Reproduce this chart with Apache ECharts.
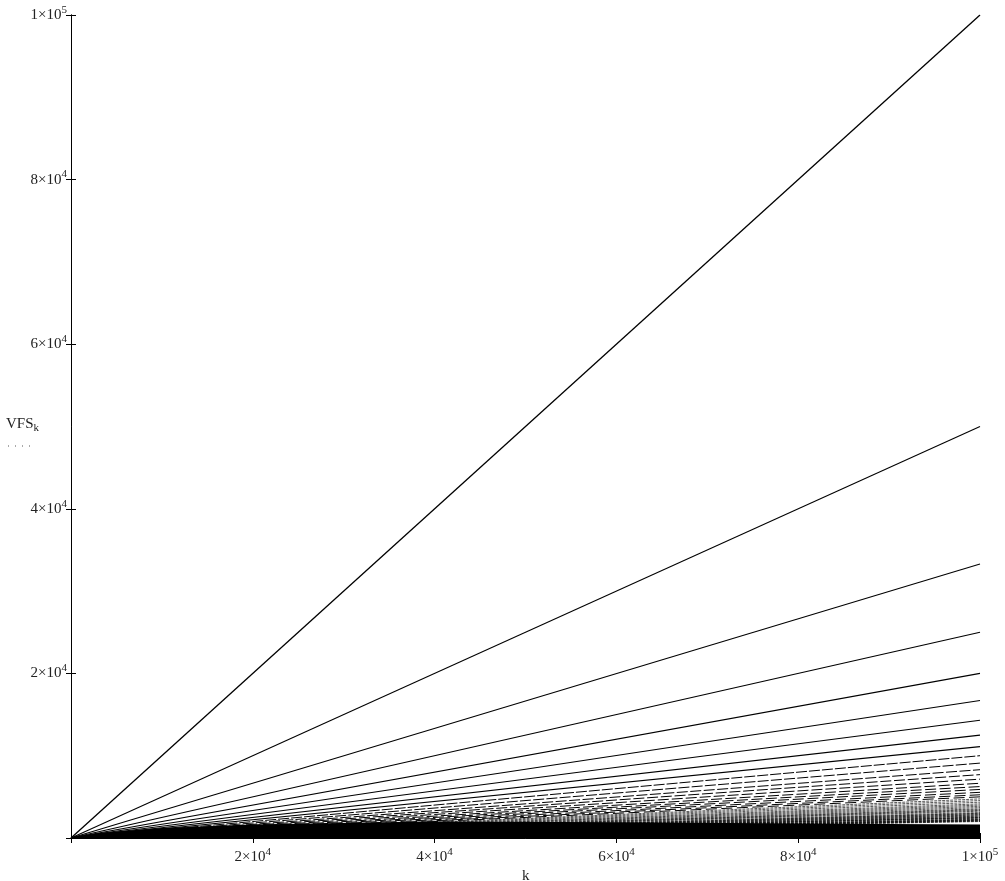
<!DOCTYPE html>
<html>
<head>
<meta charset="utf-8">
<script src="https://cdn.jsdelivr.net/npm/echarts@6/dist/echarts.min.js"></script>
<style>
  html, body { margin: 0; padding: 0; background: #fff; }
  #chart { width: 1005px; height: 881px; }
</style>
</head>
<body>
<div id="chart"></div>
<script>
// k axis range
var kMin = 0
var kMax = 100000

// tick labels, shown as mantissa×10^exponent
var tickValues = [20000, 40000, 60000, 80000, 100000]
var tickBase = ['2×10', '4×10', '6×10', '8×10', '1×10']
var tickPow = ['4', '4', '4', '4', '5']

// the rays VFS_k fans out into, value read at k = 1×10^5
var rayEnds = [100000, 50000, 33300, 25000, 20000, 16700, 14300, 12500, 11100, 10000,
  9100, 8300, 7700, 7150, 6650, 6250, 5900, 5550, 5250, 5000,
  4750, 4550, 4350, 4150, 4000, 3850, 3700, 3550, 3450, 3350,
  3250, 3100, 3000, 2950, 2850, 2800, 2700, 2650, 2550, 2500,
  2450, 2400, 2300, 2250, 2200, 2150, 2100, 2050, 2000]

// solid black band along the bottom (top edge of it)
var bandK = [0, 3000, 10000, 20000, 40000, 60000, 80000, 100000]
var bandTop = [0, 600, 1200, 1650, 2000, 1900, 1750, 1650]

var serif = 'Liberation Serif'

function tickLabel(v) {
  var i = tickValues.indexOf(v)
  if (i < 0) return ''
  return '{m|' + tickBase[i] + '}{e|' + tickPow[i] + '}'
}

var labelRich = {
  m: { fontFamily: serif, fontSize: 15, color: '#222' },
  e: { fontFamily: serif, fontSize: 11, color: '#222', padding: [0, 0, 10, 0] }
}

// ray styles: upper ones solid, middle ones dashed, the lowest ones greyish
function rayStyle(i) {
  if (i < 9) return { color: '#000', width: i === 0 ? 1.3 : 1.1, type: 'solid' }
  if (i < 20) return { color: '#000', width: 1, type: [11, 2 + (i - 9) * 0.25] }
  return { color: '#000', width: 1, opacity: 0.65, type: [3, 1] }
}

var series = rayEnds.map(function (v, i) {
  return {
    type: 'line',
    data: [[kMin, 0], [kMax, v]],
    symbol: 'none',
    silent: true,
    lineStyle: rayStyle(i),
    z: 3
  }
})

series.push({
  type: 'line',
  data: bandK.map(function (k, i) { return [k, bandTop[i]] }),
  symbol: 'none',
  silent: true,
  lineStyle: { width: 0 },
  areaStyle: { color: '#000', opacity: 1 },
  z: 2
})

var chart = echarts.init(document.getElementById('chart'))
chart.setOption({
  animation: false,
  backgroundColor: '#fff',
  grid: { left: 71, right: 25, top: 15, bottom: 43 },
  xAxis: [{
    type: 'value', min: kMin, max: kMax, interval: 20000,
    axisLine: { show: true, lineStyle: { color: '#000', width: 1 } },
    axisTick: { show: true, inside: true, length: 5, lineStyle: { color: '#000' } },
    splitLine: { show: false },
    axisLabel: { margin: 9, formatter: tickLabel, rich: labelRich }
  }, {
    type: 'value', min: kMin, max: kMax, interval: 20000, position: 'top',
    axisLine: { show: true, lineStyle: { color: '#000', width: 1 } },
    axisTick: { show: true, inside: true, length: 5, lineStyle: { color: '#000' } },
    splitLine: { show: false },
    axisLabel: { show: false }
  }],
  yAxis: [{
    type: 'value', min: 0, max: 100000, interval: 20000,
    axisLine: { show: true, lineStyle: { color: '#000', width: 1 } },
    axisTick: { show: true, inside: true, length: 5, lineStyle: { color: '#000' } },
    splitLine: { show: false },
    axisLabel: { margin: 4, formatter: tickLabel, rich: labelRich }
  }, {
    type: 'value', min: 0, max: 100000, interval: 20000, position: 'right',
    axisLine: { show: true, lineStyle: { color: '#000', width: 1 } },
    axisTick: { show: true, inside: true, length: 5, lineStyle: { color: '#000' } },
    splitLine: { show: false },
    axisLabel: { show: false }
  }],
  graphic: [{
    type: 'text', left: 6, top: 417,
    style: {
      text: '{m|VFS}{s|k}',
      rich: {
        m: { fontFamily: serif, fontSize: 15, fill: '#222' },
        s: { fontFamily: serif, fontSize: 11, fill: '#222', padding: [7, 0, 0, 0] }
      }
    }
  }, {
    type: 'line',
    shape: { x1: 8, y1: 446, x2: 34, y2: 446 },
    style: { stroke: '#555', lineWidth: 1, lineDash: [1, 6] }
  }, {
    type: 'text', left: 522, top: 869,
    style: { text: 'k', fontFamily: serif, fontSize: 15, fill: '#222' }
  }],
  series: series
})
</script>
</body>
</html>
